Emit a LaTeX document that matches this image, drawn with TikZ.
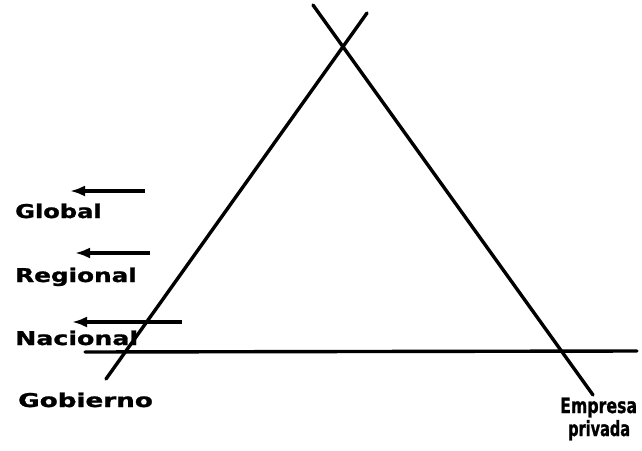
\documentclass[tikz,border=0pt]{standalone}
\usepackage{fontspec}
\usepackage{graphicx}
\usetikzlibrary{arrows.meta}
\newfontfamily\lblfont[FakeBold=1.2]{DejaVu Sans Bold}
\tikzset{
  ln/.style={line width=3.4pt, line cap=round},
  arr/.style={line width=3.4pt, -{Latex[length=15pt,width=11pt]}},
  lbl/.style={inner sep=0pt, anchor=base west, font=\lblfont\fontsize{19}{19}\selectfont},
  lblb/.style={inner sep=0pt, anchor=base west, font=\lblfont\fontsize{21}{21}\selectfont}
}
\begin{document}
\begin{tikzpicture}[x=1pt,y=-1pt]
\useasboundingbox (0,0) rectangle (642,450);
% triangle sides
\coordinate (lt) at (367,13);
\coordinate (lb) at (106,379);
\coordinate (rt) at (313,5);
\coordinate (rb) at (593,395);
\coordinate (hl) at (85,352);
\coordinate (hr) at (637,351);
\draw[ln] (lt) -- (lb);
\draw[ln] (rt) -- (rb);
\draw[ln] (hl) -- (hr);
% arrows
\coordinate (a1s) at (145,191); \coordinate (a1e) at (70,191);
\coordinate (a2s) at (150,253); \coordinate (a2e) at (75,253);
\coordinate (a3s) at (182,322); \coordinate (a3e) at (72,322);
\draw[arr] (a1s) -- (a1e);
\draw[arr] (a2s) -- (a2e);
\draw[arr] (a3s) -- (a3e);
% labels
\node[lbl] (glob) at (15,218) {\scalebox{1.27}[1]{Global}};
\node[lbl] (reg) at (15,282) {\scalebox{1.3}[1]{Regional}};
\node[lbl] (nac) at (15,345) {\scalebox{1.33}[1]{Nacional}};
\node[lbl] (gob) at (18,407) {\scalebox{1.38}[1]{Gobierno}};
\node[lblb] (emp) at (560,413) {\scalebox{0.75}[1]{Empresa}};
\node[lblb] (priv) at (568,436) {\scalebox{0.69}[1]{privada}};
\end{tikzpicture}
\end{document}
